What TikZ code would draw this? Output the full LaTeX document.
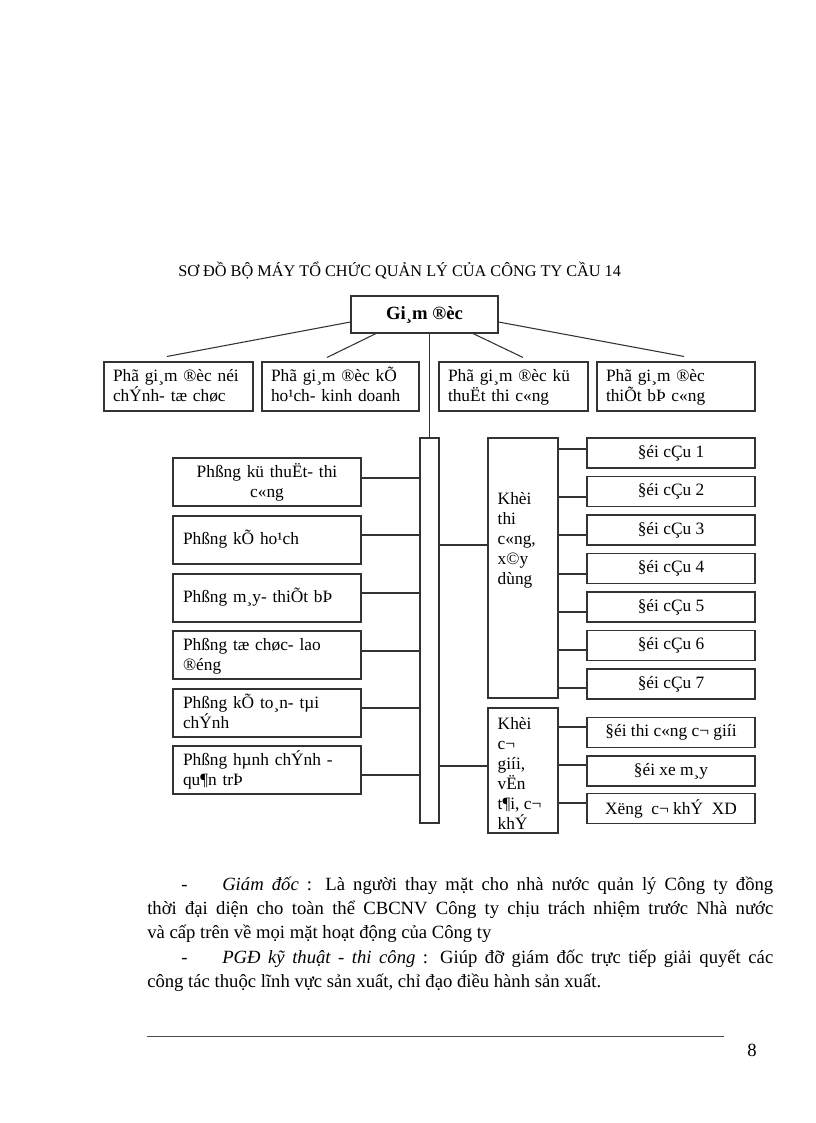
\documentclass[tikz,border=0pt]{standalone}
\usepackage{fontspec}
\setmainfont{Liberation Serif}
\usetikzlibrary{calc}
\begin{document}
\begin{tikzpicture}[x=0.75pt,y=-0.75pt,
  ln/.style={line width=0.8pt, draw=black!80},
  bx/.style={draw=black!80, line width=0.8pt, inner ysep=0pt, font=\fontsize{13}{15}\selectfont},
  rb/.style={bx, minimum height=36.75pt, align=left, inner xsep=6.75pt, text height=9.5pt, text depth=17.75pt},
  lb/.style={bx, minimum width=141pt, minimum height=36pt, text width=126pt, align=left, inner xsep=7.5pt, text height=9.5pt, text depth=16.25pt},
  lbs/.style={lb, text depth=3.5pt},
  db/.style={bx, minimum width=126pt, minimum height=22.5pt, align=center},
  kt/.style={anchor=north west, inner sep=0pt, align=left, font=\fontsize{13}{15}\selectfont},
  body/.style={anchor=base west, inner sep=0pt, font=\fontsize{14}{18}\selectfont}]
\useasboundingbox (0,0) rectangle (816,1123);
\fill[white] (0,0) rectangle (816,1123);

% title
\node[anchor=base west, inner sep=0pt, font=\fontsize{12.2}{14}\selectfont] (title) at (178,276) {SƠ ĐỒ BỘ MÁY TỔ CHỨC QUẢN LÝ CỦA CÔNG TY CẦU 14};

% director
\node[bx, minimum width=110.25pt, minimum height=27.75pt, font=\fontsize{14}{16}\selectfont\bfseries] (gd) at (424.5,314.5) {Gi¸m ®èc};

% deputies
\node[rb, minimum width=111.75pt, text width=98.25pt] (b1) at (178.5,386.5) {Phã gi¸m ®èc néi\\chÝnh- tæ chøc};
\node[rb, minimum width=117.75pt, text width=104.25pt] (b2) at (340.5,386.5) {Phã gi¸m ®èc kÕ\\ho¹ch- kinh doanh};
\node[rb, minimum width=111.75pt, text width=98.25pt] (b3) at (513.5,386.5) {Phã gi¸m ®èc kü\\thuËt thi c«ng};
\node[rb, minimum width=118.5pt, text width=105pt] (b4) at (676,386.5) {Phã gi¸m ®èc\\thiÕt bÞ c«ng};

\draw[ln] ($(gd.west)+(0,7.5)$) -- ($(b1.north)+(-11.5,-5)$);
\draw[ln] ($(gd.south)+(-48.5,0)$) -- ($(b2.north)+(-13.5,-4)$);
\draw[ln] ($(gd.south)+(48.5,0)$) -- ($(b3.north)+(9.5,-4)$);
\draw[ln] ($(gd.east)+(0,7.5)$) -- ($(b4.north)+(8,-5)$);

% bar
\node[bx, minimum width=14.25pt, minimum height=288.75pt] (bar) at (429.5,630.5) {};
\draw[ln] (bar.north) -- (bar.north |- gd.south);

% left column
\node[lb, align=center] (l1) at (267,482) {Phßng kü thuËt- thi\\c«ng};
\node[lbs] (l2) at (267,540) {Phßng kÕ ho¹ch};
\node[lbs] (l3) at (267,598) {Phßng m¸y- thiÕt bÞ};
\node[lb] (l4) at (267,655) {Phßng tæ chøc- lao\\®éng};
\node[lb] (l5) at (267,713) {Phßng kÕ to¸n- tµi\\chÝnh};
\node[lb] (l6) at (267,770) {Phßng hµnh chÝnh -\\qu¶n trÞ};
\foreach \n/\o in {l1/-4, l2/-5, l3/-5, l4/-4, l5/-5, l6/5}
  \draw[ln] ($(\n.east)+(0,\o)$) -- ($(\n.east -| bar.west)+(0,\o)$);

% blocks
\node[bx, minimum width=52.5pt, minimum height=195pt] (k1) at (523,568) {};
\node[kt] (k1t) at ($(k1.north west)+(10,55)$) {Khèi\\thi\\c«ng,\\x©y\\dùng};
\node[bx, minimum width=52.5pt, minimum height=93.75pt] (k2) at (523,770.5) {};
\node[kt] (k2t) at ($(k2.north west)+(10,9.5)$) {Khèi\\c¬\\giíi,\\vËn\\t¶i, c¬\\khÝ};
\draw[ln] ($(k1.west)+(0,-23)$) -- ($(k1.west -| bar.east)+(0,-23)$);
\draw[ln] ($(k2.west)+(0,-4.5)$) -- ($(k2.west -| bar.east)+(0,-4.5)$);

% teams
\foreach \i/\yc/\o in {1/453/-4, 2/491.5/5.5, 3/530/5, 4/568.5/5.5, 5/607/5, 6/645.5/4.5, 7/684/4}{
  \node[db] (d\i) at (671,\yc) {§éi cÇu \i};
  \draw[ln] ($(d\i.west)+(0,\o)$) -- ($(d\i.west -| k1.east)+(0,\o)$);
}
\node[db] (e1) at (671,732.5) {§éi thi c«ng c¬ giíi};
\node[db] (e2) at (671,771) {§éi xe m¸y};
\node[db] (e3) at (671,808.5) {Xëng~~c¬ khÝ~~XD};
\foreach \n/\o in {e1/-5.5, e2/-6, e3/-5.5}
  \draw[ln] ($(\n.west)+(0,\o)$) -- ($(\n.west -| k2.east)+(0,\o)$);

% body text
\node[body] (t1d) at (181,890) {-};
\node[body] (t1) at (222,890) {\makebox[413.25pt][s]{\textit{Giám đốc} : Là người thay mặt cho nhà nước quản lý Công ty đồng}};
\node[body] (t2) at (147,914) {\makebox[469.5pt][s]{thời đại diện cho toàn thể CBCNV Công ty chịu trách nhiệm trước Nhà nước}};
\node[body] (t3) at (147,938) {và cấp trên về mọi mặt hoạt động của Công ty};
\node[body] (t4d) at (181,963) {-};
\node[body] (t4) at (222,963) {\makebox[413.25pt][s]{\textit{PGĐ kỹ thuật - thi công} : Giúp đỡ giám đốc trực tiếp giải quyết các}};
\node[body] (t5) at (147,987) {công tác thuộc lĩnh vực sản xuất, chỉ đạo điều hành sản xuất.};

% footer
\coordinate (rl) at (147,1036);
\coordinate (rr) at (724,1036);
\draw[line width=0.6pt, black!70] (rl) -- (rr);
\node[anchor=base, inner sep=0pt, font=\fontsize{14}{16}\selectfont] (pg) at (752,1056) {8};
\end{tikzpicture}
\end{document}
